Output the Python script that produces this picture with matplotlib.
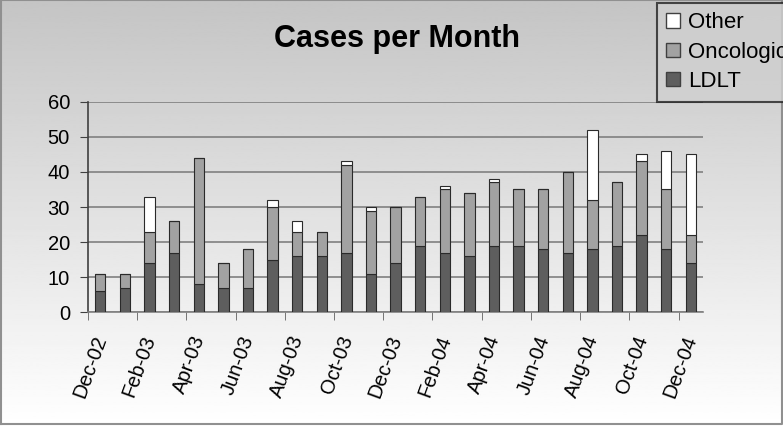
import numpy as np
import matplotlib
matplotlib.use('Agg')
import matplotlib.pyplot as plt
import matplotlib.transforms as mtransforms
from matplotlib.patches import Patch

plt.rcParams['font.family'] = ['Liberation Sans', 'DejaVu Sans']

# meses de Dec-02 a Dec-04
meses = ['Dec-02', 'Jan-03', 'Feb-03', 'Mar-03', 'Apr-03', 'May-03', 'Jun-03',
         'Jul-03', 'Aug-03', 'Sep-03', 'Oct-03', 'Nov-03', 'Dec-03', 'Jan-04',
         'Feb-04', 'Mar-04', 'Apr-04', 'May-04', 'Jun-04', 'Jul-04', 'Aug-04',
         'Sep-04', 'Oct-04', 'Nov-04', 'Dec-04']
ldlt = [6, 7, 14, 17, 8, 7, 7, 15, 16, 16, 17, 11, 14, 19, 17, 16, 19, 19, 18,
        17, 18, 19, 22, 18, 14]
oncologic = [5, 4, 9, 9, 36, 7, 11, 15, 7, 7, 25, 18, 16, 14, 18, 18, 18, 16, 17,
             23, 14, 18, 21, 17, 8]
other = [0, 0, 10, 0, 0, 0, 0, 2, 3, 0, 1, 1, 0, 0, 1, 0, 1, 0, 0,
         0, 20, 0, 2, 11, 23]

fig = plt.figure(figsize=(7.83, 4.26), dpi=100)

# fundo em degradê
bg = fig.add_axes([0, 0, 1, 1], zorder=0)
grad = np.linspace(0.77, 1.0, 256).reshape(-1, 1)
bg.imshow(grad, aspect='auto', cmap='gray', vmin=0, vmax=1, extent=[0, 1, 0, 1])
bg.plot([0.001, 0.001, 0.999, 0.999, 0.001], [0.004, 0.999, 0.999, 0.004, 0.004],
        color='#909090', lw=1.5, transform=bg.transAxes)
bg.set_xlim(0, 1)
bg.set_ylim(0, 1)
bg.axis('off')

ax = fig.add_axes([0.1124, 0.267, 0.7856, 0.494], zorder=1)
ax.set_facecolor('none')
x = np.arange(len(meses))
w = 0.42
ldlt_a = np.array(ldlt)
onc_a = np.array(oncologic)
oth_a = np.array(other)
kw = dict(width=w, edgecolor='#2a2a2a', linewidth=0.8, zorder=3)
ax.bar(x, ldlt_a, color='#5e5e5e', **kw)
ax.bar(x, onc_a, bottom=ldlt_a, color='#a2a2a2', **kw)
ax.bar(x, oth_a, bottom=ldlt_a + onc_a, color='#ffffff', **kw)

ax.set_ylim(0, 60)
ax.set_xlim(-0.5, len(meses) - 0.5)
ax.set_yticks(range(0, 61, 10))
ax.yaxis.grid(True, color='#808080', lw=1.2, zorder=1)
ax.set_axisbelow(True)
for s in ['top', 'right']:
    ax.spines[s].set_visible(False)
ax.spines['left'].set_color('#404040')
ax.spines['bottom'].set_color('#808080')
ax.spines['left'].set_linewidth(1.2)
ax.spines['bottom'].set_linewidth(1.2)
ax.tick_params(axis='y', length=6, color='#404040', labelsize=14.5, pad=7)

ax.set_xticks(x[::2])
ax.set_xticklabels(meses[::2], rotation=70, ha='right', rotation_mode='anchor',
                   fontsize=14.5)
ax.tick_params(axis='x', which='major', length=0, pad=15)
ax.set_xticks(np.arange(-0.5, len(meses), 2), minor=True)
ax.tick_params(axis='x', which='minor', length=6, color='#606060')
# desloca os rótulos um pouco para a esquerda
offset = mtransforms.ScaledTranslation(-8 / 100, 0, fig.dpi_scale_trans)
for lbl in ax.get_xticklabels():
    lbl.set_transform(lbl.get_transform() + offset)

fig.text(0.507, 0.889, 'Cases per Month', ha='center', va='baseline',
         fontsize=22, fontweight='bold')

handles = [Patch(facecolor='#ffffff', edgecolor='#404040', label='Other'),
           Patch(facecolor='#a2a2a2', edgecolor='#404040', label='Oncologic'),
           Patch(facecolor='#5e5e5e', edgecolor='#404040', label='LDLT')]
leg = fig.legend(handles=handles, loc='upper left', bbox_to_anchor=(0.839, 0.993),
                 fontsize=16, frameon=True, fancybox=False, borderpad=0.42,
                 handlelength=0.6, handleheight=0.6, handletextpad=0.4,
                 labelspacing=0.38, borderaxespad=0)
leg.get_frame().set_edgecolor('#202020')
leg.get_frame().set_linewidth(1.5)
leg.get_frame().set_facecolor('#d0d0d0')
leg.set_zorder(5)

fig.savefig('out.png', dpi=100)
